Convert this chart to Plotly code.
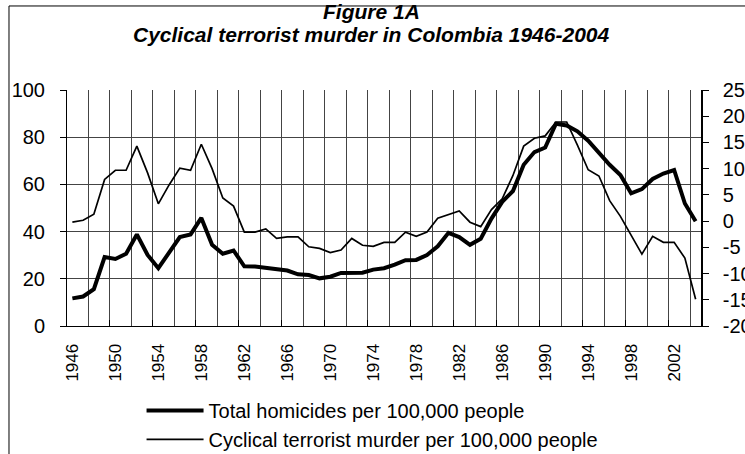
import plotly.graph_objects as go

years = list(range(1946, 2005))
homicides = [11.7, 12.5, 15.6, 29.2, 28.4, 30.6, 38.8, 30.1, 24.5, 31.3,
             37.7, 38.8, 45.8, 34.4, 30.6, 32.0, 25.3, 25.2, 24.5, 24.2,
             23.5, 21.9, 21.6, 20.2, 20.9, 22.5, 22.5, 22.6, 23.9, 24.5,
             26.0, 27.9, 28.0, 30.1, 33.8, 39.5, 37.7, 34.4, 37.0, 45.5,
             52.6, 57.2, 68.3, 73.7, 75.6, 85.7, 85.0, 82.5, 78.5, 73.2,
             68.3, 64.0, 56.2, 58.0, 62.3, 64.6, 66.1, 51.9, 44.4]
cyclical = [-0.2, 0.17, 1.3, 7.95, 9.7, 9.7, 14.3, 9.2, 3.3, 6.9,
            10.1, 9.7, 14.65, 10.0, 4.4, 2.85, -2.1, -2.1, -1.5, -3.3,
            -3.0, -3.0, -4.9, -5.2, -6.0, -5.5, -3.3, -4.6, -4.8, -4.05,
            -4.05, -2.1, -2.9, -2.1, 0.55, 1.2, 1.95, -0.2, -1.05, 2.2,
            4.25, 8.7, 14.3, 15.8, 16.25, 18.9, 18.9, 14.5, 9.8, 8.6,
            3.9, 0.9, -2.8, -6.3, -2.9, -4.05, -4.05, -7.05, -14.9]
label_years = [1946, 1950, 1954, 1958, 1962, 1966, 1970, 1974, 1978,
               1982, 1986, 1990, 1994, 1998, 2002]
left_ticks = [0, 20, 40, 60, 80, 100]
right_ticks = [-20, -15, -10, -5, 0, 5, 10, 15, 20, 25]

FONT = "Liberation Sans, Arial, sans-serif"

fig = go.Figure()
fig.add_trace(go.Scatter(
    x=years, y=homicides, mode="lines", name="Total homicides per 100,000 people",
    line=dict(color="black", width=4), yaxis="y"))
fig.add_trace(go.Scatter(
    x=years, y=cyclical, mode="lines", name="Cyclical terrorist murder per 100,000 people",
    line=dict(color="black", width=1.7), yaxis="y2"))
# helper axis for the between-category tick marks
fig.add_trace(go.Scatter(x=[], y=[], xaxis="x2", yaxis="y", showlegend=False,
                         hoverinfo="skip"))

xr = [years[0] - 0.5, years[-1] + 0.5]

fig.update_layout(
    width=745, height=454,
    margin=dict(l=67, r=44, t=90, b=128, autoexpand=False),
    paper_bgcolor="white", plot_bgcolor="white",
    font=dict(family=FONT, color="black", size=19),
    showlegend=True,
    legend=dict(xref="container", yref="container",
                x=0.19, y=0.139, xanchor="left", yanchor="top",
                font=dict(size=20, family=FONT), bgcolor="rgba(0,0,0,0)",
                tracegroupgap=0, itemwidth=57),
    xaxis=dict(
        range=xr, tickmode="array", tickvals=label_years,
        ticktext=[str(y) for y in label_years],
        tickangle=-90, ticks="", tickfont=dict(size=17),
        ticklabelstandoff=10, automargin=False,
        showgrid=False, zeroline=False,
        showline=True, linecolor="black", linewidth=1,
        minor=dict(tick0=years[0] - 0.5, dtick=2, showgrid=True,
                   gridcolor="#444444", gridwidth=1, ticks=""),
    ),
    xaxis2=dict(
        range=xr, overlaying="x", side="bottom", anchor="y",
        tickmode="linear", tick0=years[0] - 0.5, dtick=4,
        ticks="inside", ticklen=6, tickcolor="black", automargin=False,
        showticklabels=False, showgrid=False, zeroline=False, showline=False,
    ),
    yaxis=dict(
        range=[0, 100], tickmode="array", tickvals=left_ticks,
        ticktext=[str(v) for v in left_ticks],
        ticks="outside", ticklen=6, tickcolor="black",
        ticklabelstandoff=11, automargin=False,
        showgrid=True, gridcolor="#444444", gridwidth=1, zeroline=False,
        showline=True, linecolor="black", linewidth=1,
        tickfont=dict(size=20),
    ),
    yaxis2=dict(
        range=[-20, 25], tickmode="array", tickvals=right_ticks,
        ticktext=[str(v) for v in right_ticks],
        overlaying="y", side="right", anchor="x",
        ticks="outside", ticklen=6, tickcolor="black",
        ticklabelstandoff=10, automargin=False,
        showgrid=False, zeroline=False,
        showline=True, linecolor="black", linewidth=1.5,
        tickfont=dict(size=20),
    ),
    annotations=[
        dict(text="<b><i>Figure 1A</i></b>", xref="paper", yref="paper",
             x=0.481, y=1.331, xanchor="center", yanchor="middle",
             showarrow=False, font=dict(size=21, family=FONT)),
        dict(text="<b><i>Cyclical terrorist murder in Colombia 1946-2004</i></b>",
             xref="paper", yref="paper", x=0.481, y=1.237,
             xanchor="center", yanchor="middle",
             showarrow=False, font=dict(size=21, family=FONT)),
    ],
    shapes=[
        dict(type="line", xref="paper", yref="paper", x0=-0.0915, x1=1.08,
             y0=1.356, y1=1.356, line=dict(color="black", width=1)),
        dict(type="line", xref="paper", yref="paper", x0=-0.0915, x1=-0.0915,
             y0=1.356, y1=-0.6, line=dict(color="black", width=1)),
    ],
)

fig.write_html("out.html",
               config={"displayModeBar": False},
               post_script="document.body.style.margin='0';"
                           "document.body.style.overflow='hidden';")
